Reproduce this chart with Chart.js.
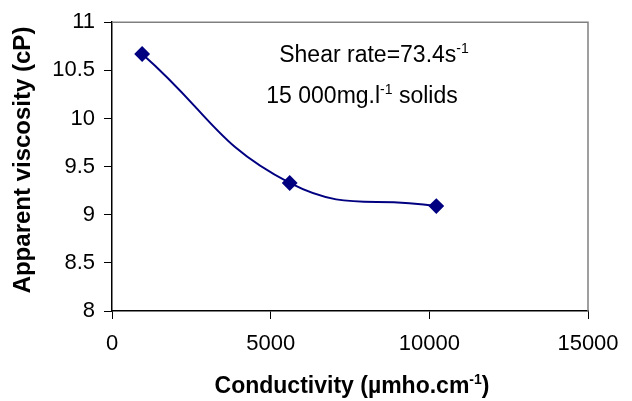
<!DOCTYPE html>
<html><head><meta charset="utf-8">
<script src="https://cdn.jsdelivr.net/npm/chart.js@4/dist/chart.umd.min.js"></script>
<style>html,body{margin:0;padding:0;background:#fff}#wrap{width:632px;height:401px}</style>
</head><body><div id="wrap"><canvas id="c" width="632" height="401"></canvas></div>
<script>
const conductivity = [950, 5600, 10220];
const viscosity = [10.67, 9.33, 9.09];
const xTicks = [0, 5000, 10000, 15000];
const yTicks = [8, 8.5, 9, 9.5, 10, 10.5, 11];
const xTitle = [["Conductivity (µmho.cm", false], ["-1", true], [")", false]];
const yTitle = "Apparent viscosity (cP)";
const note1 = [["Shear rate=73.4s", false], ["-1", true]];
const note2 = [["15 000mg.l", false], ["-1", true], [" solids", false]];

const FONT = "'Liberation Sans', Arial, sans-serif";

function drawRuns(ctx, runs, cx, y, size, bold) {
  const w = bold ? 'bold ' : '';
  let total = 0;
  runs.forEach(([t, sup]) => {
    ctx.font = w + (sup ? Math.round(size * 0.6) : size) + 'px ' + FONT;
    total += ctx.measureText(t).width;
  });
  let x = cx - total / 2;
  runs.forEach(([t, sup]) => {
    ctx.font = w + (sup ? Math.round(size * 0.6) : size) + 'px ' + FONT;
    ctx.textBaseline = 'alphabetic';
    ctx.textAlign = 'left';
    ctx.fillText(t, x, sup ? y - size * 0.4 : y);
    x += ctx.measureText(t).width;
  });
}

const deco = {
  id: 'deco',
  beforeDatasetsDraw(chart) {
    const { ctx, chartArea: a } = chart;
    ctx.save();
    ctx.strokeStyle = '#808080';
    ctx.lineWidth = 1.5;
    ctx.beginPath();
    ctx.moveTo(a.left, a.top);
    ctx.lineTo(a.right, a.top);
    ctx.lineTo(a.right, a.bottom);
    ctx.stroke();
    ctx.restore();
  },
  afterDraw(chart) {
    const { ctx } = chart;
    ctx.save();
    ctx.fillStyle = '#000';
    drawRuns(ctx, note1, 374, 62, 23, false);
    drawRuns(ctx, note2, 362, 103, 23, false);
    drawRuns(ctx, xTitle, 352, 393, 23, true);
    ctx.translate(23, 160);
    ctx.rotate(-Math.PI / 2);
    ctx.font = 'bold 24px ' + FONT;
    ctx.textAlign = 'center';
    ctx.textBaseline = 'middle';
    ctx.fillText(yTitle, 0, 0);
    ctx.restore();
  }
};

new Chart(document.getElementById('c'), {
  type: 'scatter',
  data: {
    datasets: [{
      data: conductivity.map((x, i) => ({ x, y: viscosity[i] })),
      showLine: true,
      borderColor: '#000080',
      backgroundColor: '#000080',
      borderWidth: 2,
      tension: 0.45,
      pointStyle: 'rectRot',
      pointRadius: 6.5,
      pointHoverRadius: 6.5
    }]
  },
  options: {
    responsive: false,
    animation: false,
    layout: { padding: { left: 0, right: 44, top: 19, bottom: 0 } },
    plugins: { legend: { display: false }, tooltip: { enabled: false } },
    scales: {
      x: {
        type: 'linear', min: 0, max: 15000,
        afterBuildTicks(s) { s.ticks = xTicks.map(v => ({ value: v })); },
        afterFit(s) { s.height = 90; },
        grid: { drawOnChartArea: false, tickLength: 8, color: '#000', tickColor: '#000' },
        border: { color: '#000', width: 1.5 },
        ticks: { color: '#000', font: { family: FONT, size: 22 }, padding: 12, maxRotation: 0, callback: v => String(v) }
      },
      y: {
        type: 'linear', min: 8, max: 11,
        afterBuildTicks(s) { s.ticks = yTicks.map(v => ({ value: v })); },
        afterFit(s) { s.width = 112; },
        grid: { drawOnChartArea: false, tickLength: 8, color: '#000', tickColor: '#000' },
        border: { color: '#000', width: 1.5 },
        ticks: { color: '#000', font: { family: FONT, size: 22 }, padding: 9, callback: v => String(v) }
      }
    }
  },
  plugins: [deco]
});
</script></body></html>
